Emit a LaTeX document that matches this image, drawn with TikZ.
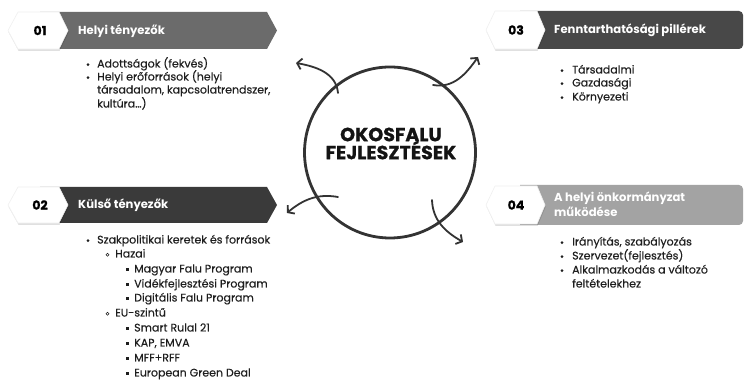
\documentclass[tikz,border=0pt]{standalone}
\usepackage{fontspec}
\setmainfont{Poppins}
\newfontfamily\medfont[FakeBold=0.35]{Poppins}
\newfontfamily\heavyfont[FakeBold=0.9]{Poppins}
\usetikzlibrary{arrows.meta,shadows}
\definecolor{barA}{HTML}{6B6B6B}
\definecolor{barB}{HTML}{3A3A3A}
\definecolor{barC}{HTML}{484848}
\definecolor{barD}{HTML}{A3A3A3}
\definecolor{ink}{HTML}{333333}
\definecolor{txt}{HTML}{1E1E1E}
\begin{document}
\begin{tikzpicture}[x=1pt,y=1pt,
  tagbox/.style={fill=white, draw=black!6, line width=0.6pt,
    drop shadow={shadow xshift=0.6pt, shadow yshift=-2pt, opacity=0.12, fill=black}},
  hd/.style={text=white, font=\bfseries\fontsize{11.6}{13}\selectfont, anchor=base west, inner sep=0pt},
  num/.style={font=\heavyfont\bfseries\fontsize{12.5}{14}\selectfont, text=black, inner sep=0pt},
  li/.style={font=\medfont\fontsize{11}{13}\selectfont, text=txt, anchor=base west, inner sep=0pt},
  arr/.style={draw=ink, line width=1.8pt, line cap=round, -{Straight Barb[length=4.5pt,width=11pt]}},
  core/.style={circle, draw=ink, line width=2.8pt, minimum size=171pt, inner sep=0pt},
  coretext/.style={font=\heavyfont\bfseries\fontsize{19}{19}\selectfont, align=center, text=black!92, inner sep=0pt}
]
\useasboundingbox (0,0) rectangle (745,380);

% ---------- header 01 ----------
\fill[barA] (40,368) -- (267,368) -- (277,349.5) -- (267,331) -- (40,331) -- cycle;
\path[tagbox] (8,349.5) -- (18,368) -- (59,368) -- (68,349.5) -- (59,331) -- (18,331) -- cycle;
\node[num] (n1) at (40,349.5) {01};
\node[hd] (h1) at (78,345.5) {Helyi tényezők};

% ---------- header 03 ----------
\fill[barC] (520,331) [rounded corners=4pt] -- (743,331) -- (743,369) [sharp corners] -- (520,369) -- cycle;
\path[tagbox] (486,350) -- (495,369) -- (537,369) -- (545,350) -- (537,331) -- (495,331) -- cycle;
\node[num] (n3) at (516,350) {03};
\node[hd] (h3) at (554,346) {Fenntarthatósági pillérek};

% ---------- header 02 ----------
\fill[barB] (40,193) -- (267,193) -- (277,175) -- (267,157) -- (40,157) -- cycle;
\path[tagbox] (8,175) -- (18,193) -- (59,193) -- (68,175) -- (59,157) -- (18,157) -- cycle;
\node[num] (n2) at (40,175) {02};
\node[hd] (h2) at (78,171) {Külső tényezők};

% ---------- header 04 ----------
\fill[barD] (520,155) [rounded corners=4pt] -- (743,155) -- (743,195) [sharp corners] -- (520,195) -- cycle;
\path[tagbox] (486,175) -- (495,194) -- (537,194) -- (545,175) -- (537,156) -- (495,156) -- cycle;
\node[num] (n4) at (516,175) {04};
\node[hd] (h4a) at (554,178) {A helyi önkormányzat};
\node[hd] (h4b) at (554,163) {működése};

% ---------- list 01 ----------
\fill[txt] (88,315.3) circle (1.5);
\node[li] (a1) at (97,312.5) {Adottságok (fekvés)};
\fill[txt] (88,302.3) circle (1.5);
\node[li] (a2) at (97,299.5) {Helyi erőforrások (helyi};
\node[li] (a3) at (97,286.5) {társadalom, kapcsolatrendszer,};
\node[li] (a4) at (97,272.5) {kultúra…)};

% ---------- list 03 ----------
\fill[txt] (562,309.3) circle (1.5);
\node[li] (c1) at (572,306.5) {Társadalmi};
\fill[txt] (562,296.3) circle (1.5);
\node[li] (c2) at (572,293.5) {Gazdasági};
\fill[txt] (562,282.3) circle (1.5);
\node[li] (c3) at (572,279.5) {Környezeti};

% ---------- list 02 ----------
\fill[txt] (88,139.3) circle (1.5);
\node[li] (b1) at (97,136.5) {Szakpolitikai keretek és források};
\draw[txt, line width=0.6pt] (107.5,125.3) circle (1.5);
\node[li] (b2) at (115,122.5) {Hazai};
\fill[txt] (126,108.9) rectangle +(2.6,2.6);
\node[li] (b3) at (134,107.5) {Magyar Falu Program};
\fill[txt] (126,93.9) rectangle +(2.6,2.6);
\node[li] (b4) at (134,92.5) {Vidékfejlesztési Program};
\fill[txt] (126,79.9) rectangle +(2.6,2.6);
\node[li] (b5) at (134,78.5) {Digitális Falu Program};
\draw[txt, line width=0.6pt] (107.5,66.3) circle (1.5);
\node[li] (b6) at (115,63.5) {EU-szintű};
\fill[txt] (126,49.9) rectangle +(2.6,2.6);
\node[li] (b7) at (134,48.5) {Smart Rulal 21};
\fill[txt] (126,34.9) rectangle +(2.6,2.6);
\node[li] (b8) at (134,33.5) {KAP, EMVA};
\fill[txt] (126,19.9) rectangle +(2.6,2.6);
\node[li] (b9) at (134,18.5) {MFF+RFF};
\fill[txt] (126,4.9) rectangle +(2.6,2.6);
\node[li] (b10) at (134,3.5) {European Green Deal};

% ---------- list 04 ----------
\fill[txt] (562,137.3) circle (1.5);
\node[li] (d1) at (572,134.5) {Irányítás, szabályozás};
\fill[txt] (562,123.3) circle (1.5);
\node[li] (d2) at (572,120.5) {Szervezet(fejlesztés)};
\fill[txt] (562,109.3) circle (1.5);
\node[li] (d3) at (572,106.5) {Alkalmazkodás a változó};
\node[li] (d4) at (572,92.5) {feltételekhez};

% ---------- centre ----------
\node[core] (core) at (390,227.5) {};
\node[coretext] (ct) at (391,236.5) {OKOSFALU\\[-1pt]FEJLESZTÉSEK};

\coordinate (tlS) at (338,287);
\coordinate (tlE) at (296,317);
\coordinate (trS) at (433,295);
\coordinate (trE) at (478,323);
\coordinate (blS) at (338,183);
\coordinate (blE) at (287,167);
\coordinate (brS) at (432,180);
\coordinate (brE) at (463,138);

\draw[arr] (tlS) to[out=95,in=-10] (tlE);
\draw[arr] (trS) to[out=-10,in=235] (trE);
\draw[arr] (blS) to[out=170,in=40] (blE);
\draw[arr] (brS) to[out=-88,in=150] (brE);
\end{tikzpicture}
\end{document}
